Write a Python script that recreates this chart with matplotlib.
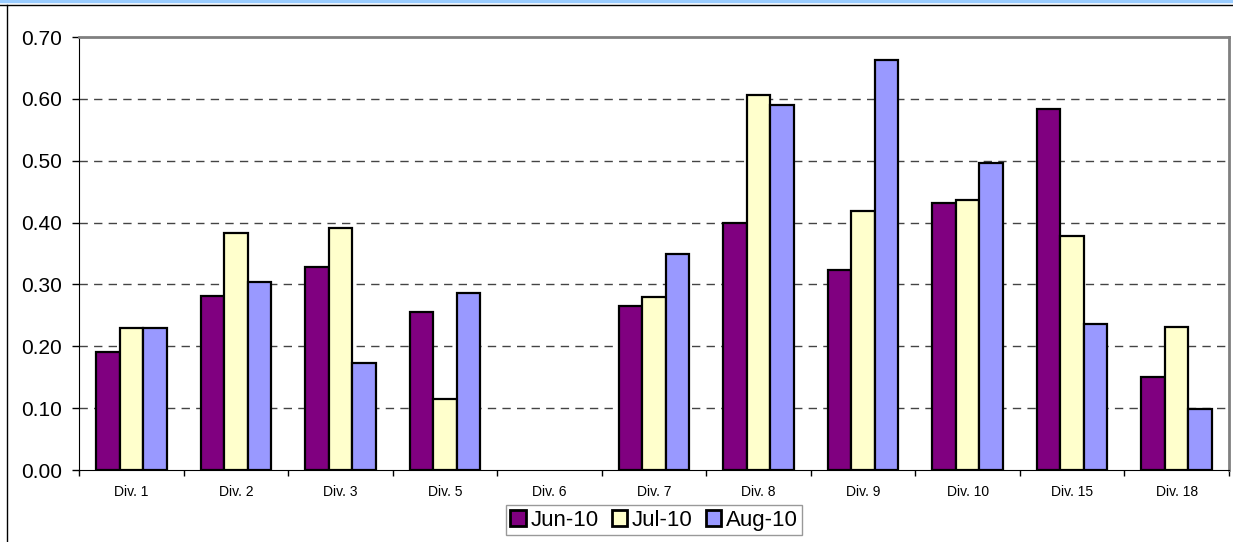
import numpy as np
import matplotlib.pyplot as plt
from matplotlib.lines import Line2D

plt.rcParams['font.family'] = ['Liberation Sans', 'DejaVu Sans']

# data
divisions = ["Div. 1", "Div. 2", "Div. 3", "Div. 5", "Div. 6", "Div. 7",
             "Div. 8", "Div. 9", "Div. 10", "Div. 15", "Div. 18"]
jun_10 = [0.190, 0.282, 0.328, 0.256, 0.0, 0.265, 0.399, 0.324, 0.431, 0.583, 0.151]
jul_10 = [0.229, 0.383, 0.392, 0.115, 0.0, 0.280, 0.606, 0.418, 0.437, 0.379, 0.231]
aug_10 = [0.230, 0.304, 0.173, 0.286, 0.0, 0.349, 0.590, 0.663, 0.497, 0.236, 0.099]
series = ["Jun-10", "Jul-10", "Aug-10"]
colors = ["#800080", "#FFFFCC", "#9999FF"]

fig = plt.figure(figsize=(12.33, 5.42), dpi=100)

# outer chart frame, as in the spreadsheet export
fig.add_artist(Line2D([0, 1], [0.998, 0.998], color="#99CCFF", lw=2.5,
                      transform=fig.transFigure))
fig.add_artist(Line2D([0, 1], [0.991, 0.991], color="black", lw=1.0,
                      transform=fig.transFigure))
fig.add_artist(Line2D([0.0058, 0.0058], [0, 0.991], color="black", lw=1.0,
                      transform=fig.transFigure))

ax = fig.add_axes([79 / 1233, 72 / 542, 1150 / 1233, 433 / 542])

x = np.arange(len(divisions))
width = 0.225
for i, (vals, lab, c) in enumerate(zip([jun_10, jul_10, aug_10], series, colors)):
    # zero-height bars get no outline (Div. 6 shows nothing)
    lws = [1.6 if v > 0 else 0 for v in vals]
    ax.bar(x + (i - 1) * width, vals, width, color=c, edgecolor="black",
           linewidth=lws, label=lab, zorder=3)

ax.set_xlim(-0.5, len(divisions) - 0.5)
ax.set_ylim(0, 0.70)
ax.set_yticks(np.arange(0, 0.71, 0.1))
ax.set_yticklabels([f"{v:.2f}" for v in np.arange(0, 0.71, 0.1)], fontsize=15)

# ticks at category boundaries, labels at centres
ax.set_xticks(np.arange(-0.5, len(divisions), 1.0))
ax.set_xticklabels([])
ax.set_xticks(x, minor=True)
ax.set_xticklabels(divisions, minor=True, fontsize=10)
ax.tick_params(axis="x", which="minor", length=0, pad=11)
ax.tick_params(axis="x", which="major", length=4, direction="out", width=1)
ax.tick_params(axis="y", length=5, direction="out", width=1, pad=7)

# dashed gridlines
for v in np.arange(0.1, 0.65, 0.1):
    ax.axhline(v, color="#444444", lw=1.0, dashes=(6, 4.5), zorder=1)

ax.spines["top"].set_color("#808080")
ax.spines["right"].set_color("#808080")
ax.spines["top"].set_linewidth(2)
ax.spines["right"].set_linewidth(2)
ax.spines["left"].set_color("black")
ax.spines["bottom"].set_color("black")

leg = ax.legend(loc="center", bbox_to_anchor=(0.5, -0.116), ncol=3,
                fontsize=16, frameon=True, fancybox=False, edgecolor="#808080",
                handlelength=0.7, handleheight=0.7, handletextpad=0.2,
                columnspacing=0.6, borderpad=0.2, borderaxespad=0)
leg.get_frame().set_linewidth(1.0)
for h in leg.legend_handles:
    h.set_linewidth(2.0)

plt.savefig("out.png", dpi=100)
